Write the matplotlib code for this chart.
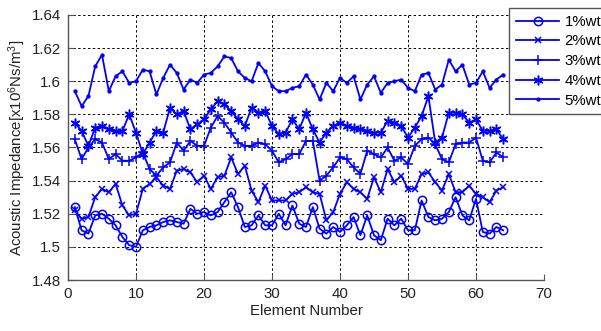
import numpy as np
import matplotlib
matplotlib.use('Agg')
import matplotlib.pyplot as plt
from matplotlib.ticker import FuncFormatter

plt.rcParams['font.family'] = ['Liberation Sans', 'DejaVu Sans']
plt.rcParams['mathtext.fontset'] = 'custom'
plt.rcParams['mathtext.rm'] = 'Liberation Sans'
plt.rcParams['mathtext.it'] = 'Liberation Sans'

# номера элементов
element = np.arange(1, 65)

wt1 = [1.524, 1.510, 1.508, 1.519, 1.520, 1.517, 1.513, 1.506, 1.501, 1.500,
       1.510, 1.512, 1.513, 1.515, 1.516, 1.515, 1.514, 1.523, 1.520, 1.521,
       1.519, 1.521, 1.527, 1.533, 1.524, 1.512, 1.513, 1.519, 1.513, 1.513,
       1.520, 1.513, 1.525, 1.514, 1.512, 1.524, 1.511, 1.508, 1.512, 1.509,
       1.513, 1.518, 1.507, 1.519, 1.507, 1.504, 1.517, 1.513, 1.517, 1.510,
       1.510, 1.528, 1.518, 1.516, 1.517, 1.521, 1.530, 1.519, 1.516, 1.529,
       1.509, 1.508, 1.512, 1.510]

wt2 = [1.522, 1.517, 1.518, 1.530, 1.535, 1.533, 1.538, 1.525, 1.519, 1.520,
       1.535, 1.538, 1.542, 1.537, 1.535, 1.546, 1.547, 1.545, 1.539, 1.543,
       1.535, 1.542, 1.543, 1.554, 1.544, 1.549, 1.534, 1.527, 1.537, 1.528,
       1.528, 1.528, 1.532, 1.533, 1.536, 1.533, 1.532, 1.516, 1.521, 1.532,
       1.539, 1.535, 1.533, 1.529, 1.542, 1.533, 1.547, 1.539, 1.543, 1.535,
       1.535, 1.544, 1.545, 1.539, 1.534, 1.544, 1.533, 1.533, 1.537, 1.532,
       1.530, 1.527, 1.534, 1.536]

wt3 = [1.565, 1.553, 1.560, 1.565, 1.563, 1.553, 1.556, 1.552, 1.552, 1.554,
       1.557, 1.547, 1.543, 1.548, 1.551, 1.563, 1.558, 1.564, 1.561, 1.561,
       1.572, 1.579, 1.575, 1.569, 1.563, 1.561, 1.561, 1.563, 1.562, 1.558,
       1.551, 1.553, 1.556, 1.556, 1.564, 1.564, 1.540, 1.543, 1.548, 1.554,
       1.553, 1.548, 1.544, 1.558, 1.556, 1.554, 1.560, 1.552, 1.554, 1.550,
       1.561, 1.565, 1.566, 1.562, 1.553, 1.551, 1.562, 1.563, 1.563, 1.566,
       1.552, 1.551, 1.557, 1.554]

wt4 = [1.575, 1.570, 1.561, 1.572, 1.573, 1.571, 1.570, 1.570, 1.580, 1.569,
       1.556, 1.563, 1.570, 1.569, 1.584, 1.580, 1.582, 1.571, 1.574, 1.577,
       1.583, 1.588, 1.586, 1.582, 1.577, 1.573, 1.584, 1.581, 1.582, 1.573,
       1.568, 1.569, 1.577, 1.571, 1.581, 1.571, 1.563, 1.569, 1.573, 1.575,
       1.573, 1.572, 1.571, 1.570, 1.569, 1.569, 1.576, 1.575, 1.573, 1.566,
       1.572, 1.579, 1.591, 1.563, 1.566, 1.581, 1.581, 1.580, 1.575, 1.577,
       1.570, 1.570, 1.571, 1.565]

wt5 = [1.594, 1.585, 1.591, 1.609, 1.616, 1.594, 1.603, 1.606, 1.599, 1.600,
       1.607, 1.606, 1.592, 1.602, 1.610, 1.605, 1.595, 1.601, 1.599, 1.604,
       1.605, 1.609, 1.615, 1.614, 1.606, 1.602, 1.600, 1.611, 1.606, 1.597,
       1.594, 1.594, 1.596, 1.597, 1.604, 1.598, 1.589, 1.599, 1.594, 1.602,
       1.599, 1.603, 1.589, 1.598, 1.603, 1.593, 1.599, 1.600, 1.601, 1.596,
       1.594, 1.604, 1.605, 1.595, 1.598, 1.613, 1.606, 1.610, 1.598, 1.599,
       1.606, 1.596, 1.601, 1.604]

labels = ['1%wt', '2%wt', '3%wt', '4%wt', '5%wt']
# маркеры как в MATLAB: o, x, +, звёздочка, точка
markers = ['o', 'x', '+', (6, 2, 0), '.']
sizes = [6, 5, 7, 7, 4]
faces = ['none', 'none', 'none', 'none', '#0000ff']

fig = plt.figure(figsize=(6.01, 3.31), dpi=100)
ax = fig.add_axes([68/601, 51/331, 476/601, 265/331])

for y, lab, m, s, fc in zip([wt1, wt2, wt3, wt4, wt5], labels, markers, sizes, faces):
    ax.plot(element, y, color='#0000ff', linewidth=1.3, marker=m,
            markersize=s, markerfacecolor=fc, markeredgewidth=1.1,
            label=lab)

ax.set_xlim(0, 70)
ax.set_ylim(1.48, 1.64)
ax.set_xticks(np.arange(0, 71, 10))
ax.set_yticks(np.arange(1.48, 1.641, 0.02))
ax.yaxis.set_major_formatter(FuncFormatter(lambda v, p: '%g' % round(v, 2)))

ax.grid(True, color='black', linestyle=(0, (2.5, 2.5)), linewidth=0.7)
ax.spines['top'].set_visible(False)
ax.spines['right'].set_visible(False)
for sp in ['left', 'bottom']:
    ax.spines[sp].set_color('#555555')
    ax.spines[sp].set_linewidth(1.0)
ax.tick_params(direction='in', length=4, width=0.8, color='#555555',
               labelsize=10.8, labelcolor='#222222', pad=5)

ax.set_xlabel('Element Number', fontsize=10.8, color='#222222', labelpad=2)
ax.set_ylabel('Acoustic Impedance[x10$^6$Ns/m$^3$]', fontsize=10.8,
              color='#222222', labelpad=3)

leg = ax.legend(loc='upper left', bbox_to_anchor=(509/601, 1 - 8/331),
                bbox_transform=fig.transFigure, fancybox=False,
                edgecolor='#555555', framealpha=1, borderaxespad=0,
                handlelength=2.9, handletextpad=0.35, labelspacing=0.38,
                borderpad=0.45, fontsize=10.8)
leg.get_frame().set_linewidth(1.0)

fig.savefig('out.png', dpi=100)
